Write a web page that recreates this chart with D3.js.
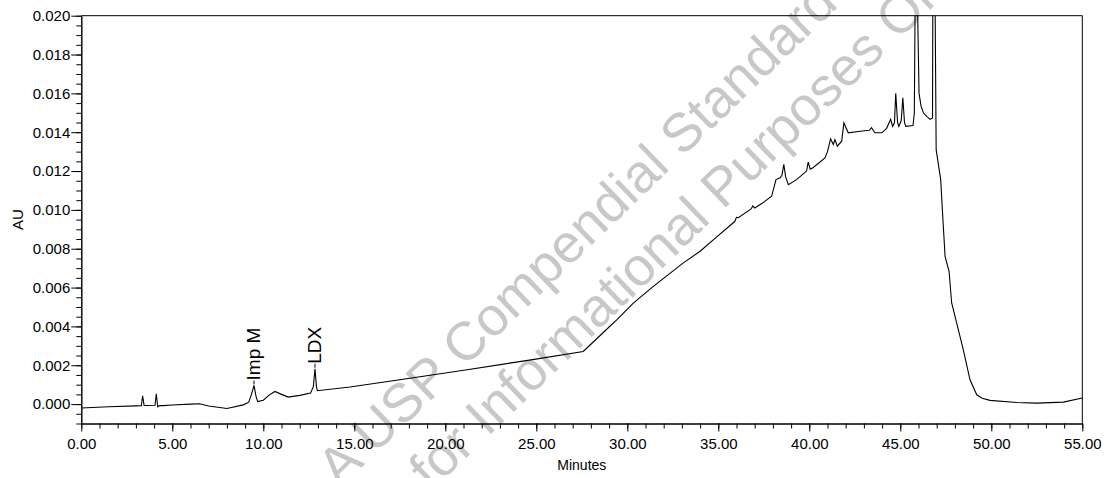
<!DOCTYPE html>
<html>
<head>
<meta charset="utf-8">
<script src="https://cdn.jsdelivr.net/npm/d3@7"></script>
<style>
  html, body { margin: 0; padding: 0; background: #fff; }
  svg { display: block; }
  text { font-family: "Liberation Sans", Arial, sans-serif; }
</style>
</head>
<body>
<svg id="chart" width="1108" height="478"></svg>
<script>
// ---- data ----
const times = [0, 1.5, 3.0, 3.3, 3.37, 3.45, 3.6, 4.05, 4.12, 4.2, 4.3, 4.5, 5.0, 6.0, 6.5, 7.0, 8.0, 8.9, 9.2, 9.35, 9.49, 9.6, 9.69, 10.0, 10.3, 10.64, 11.0, 11.37, 12.0, 12.6, 12.75, 12.84, 12.92, 12.97, 14.76, 17.5, 21.2, 24.8, 27.58, 28.0, 29.0, 29.42, 30.33, 31.43, 33.08, 34.0, 34.9, 35.9, 36.0, 36.1, 36.8, 36.9, 37.0, 37.5, 37.93, 38.17, 38.4, 38.5, 38.6, 38.7, 38.85, 39.3, 39.85, 39.94, 40.05, 40.2, 40.86, 41.0, 41.17, 41.32, 41.41, 41.54, 41.78, 41.9, 42.14, 42.79, 43.3, 43.42, 43.6, 43.98, 44.25, 44.34, 44.47, 44.58, 44.68, 44.75, 44.85, 44.92, 45.05, 45.14, 45.23, 45.3, 45.7, 45.77, 45.85, 45.96, 46.03, 46.14, 46.27, 46.45, 46.64, 46.77, 46.8, 46.88, 46.97, 47.22, 47.33, 47.46, 47.68, 47.82, 48.46, 48.83, 49.2, 49.5, 49.93, 51.4, 52.5, 53.96, 55.0];
const absorb = [-0.0002, -0.00014, -0.00009, -0.00008, 0.00043, -0.00007, -0.00007, -0.00006, 0.00053, -0.00014, -0.00007, -0.00008, -0.00005, 0.0, 0.00002, -0.0001, -0.00023, -0.00004, 0.0001, 0.0005, 0.00096, 0.0004, 0.00013, 0.0002, 0.00045, 0.00065, 0.0005, 0.00036, 0.00045, 0.00057, 0.0009, 0.00182, 0.0009, 0.00069, 0.00088, 0.00125, 0.00177, 0.00229, 0.00271, 0.00308, 0.00397, 0.00434, 0.0052, 0.00606, 0.00727, 0.00787, 0.0086, 0.0094, 0.00962, 0.0096, 0.01005, 0.0102, 0.0101, 0.0104, 0.0107, 0.01156, 0.01165, 0.0118, 0.01234, 0.0117, 0.0113, 0.01156, 0.012, 0.01246, 0.0121, 0.01217, 0.01268, 0.013, 0.01366, 0.01337, 0.01362, 0.01328, 0.01354, 0.01448, 0.01397, 0.01405, 0.0141, 0.01423, 0.01397, 0.01397, 0.0142, 0.0144, 0.01466, 0.0143, 0.0145, 0.016, 0.0145, 0.0143, 0.0146, 0.01577, 0.0145, 0.0143, 0.01434, 0.0150, 0.025, 0.0198, 0.016, 0.01534, 0.015, 0.01482, 0.01466, 0.01474, 0.025, 0.025, 0.0131, 0.01156, 0.0097, 0.00761, 0.00684, 0.00522, 0.0028, 0.00125, 0.00048, 0.0003, 0.00019, 0.00008, 0.00005, 0.0001, 0.00031];
const peakNames = ["Imp M", "LDX"];
const peakTimes = [9.49, 12.84];
const peakValues = [0.00096, 0.00182];
const xMajorTicks = [0, 5, 10, 15, 20, 25, 30, 35, 40, 45, 50, 55];
const yMajorTicks = [0, 0.002, 0.004, 0.006, 0.008, 0.010, 0.012, 0.014, 0.016, 0.018, 0.020];
const watermarkLines = ["A USP Compendial Standard", "for Informational Purposes Only"];

// ---- layout ----
const svg = d3.select("#chart");
const mLeft = 81.3, mRight = 1082.3, mTop = 15.7, mBottom = 423.5;
const x = d3.scaleLinear().domain([0, 55]).range([mLeft, mRight]);
const y = d3.scaleLinear().domain([-0.001, 0.020]).range([mBottom, mTop]);

// watermark
const wm = svg.append("g")
  .attr("transform", "translate(339.4,488.7) rotate(-44)")
  .attr("fill", "#c8c8c8")
  .style("font-size", "54px");
wm.append("text").attr("x", 0).attr("y", 0).text(watermarkLines[0]);
wm.append("text").attr("x", 64).attr("y", 66).text(watermarkLines[1]);

// clip
svg.append("defs").append("clipPath").attr("id", "plotclip")
  .append("rect").attr("x", mLeft).attr("y", mTop).attr("width", mRight - mLeft).attr("height", mBottom - mTop);

// axes
const xMinor = d3.range(0, 56, 1);
const yMinor = d3.range(-0.001, 0.02001, 0.0005);

const gx = svg.append("g").attr("transform", `translate(0,${mBottom})`);
gx.call(d3.axisBottom(x).tickValues(xMinor).tickSize(5).tickSizeOuter(0).tickFormat(""));
gx.append("g").call(d3.axisBottom(x).tickValues(xMajorTicks).tickSize(8).tickSizeOuter(0).tickPadding(7).tickFormat(d3.format(".2f")));
gx.selectAll("text").style("font-size", "15px").attr("fill", "#000");

const gy = svg.append("g").attr("transform", `translate(${mLeft},0)`);
gy.call(d3.axisLeft(y).tickValues(yMinor).tickSize(5).tickSizeOuter(0).tickFormat(""));
gy.append("g").call(d3.axisLeft(y).tickValues(yMajorTicks).tickSize(10).tickSizeOuter(0).tickPadding(1).tickFormat(d3.format(".3f")));
gy.selectAll("text").style("font-size", "15px").attr("fill", "#000");

svg.selectAll(".domain, .tick line").attr("stroke", "#000");

// frame top & right
svg.append("line").attr("x1", mLeft).attr("x2", mRight).attr("y1", mTop).attr("y2", mTop).attr("stroke", "#000");
svg.append("line").attr("x1", mRight).attr("x2", mRight).attr("y1", mTop).attr("y2", mBottom).attr("stroke", "#000");

// axis titles
svg.append("text").attr("x", x(27.5)).attr("y", 470).attr("text-anchor", "middle")
  .style("font-size", "14px").attr("fill", "#000").text("Minutes");
svg.append("text").attr("transform", `translate(23,${y(0.0095)}) rotate(-90)`).attr("text-anchor", "middle")
  .style("font-size", "15px").attr("fill", "#000").text("AU");

// trace
const pts = times.map((t, i) => [t, absorb[i]]);
svg.append("path").datum(pts)
  .attr("clip-path", "url(#plotclip)")
  .attr("fill", "none").attr("stroke", "#000").attr("stroke-width", 1.1)
  .attr("d", d3.line().x(d => x(d[0])).y(d => y(d[1])));

// peak labels
peakNames.forEach((name, i) => {
  const px = x(peakTimes[i]), py = y(peakValues[i]);
  svg.append("line").attr("x1", px).attr("x2", px).attr("y1", py - 1).attr("y2", py - 5).attr("stroke", "#000");
  svg.append("text").attr("transform", `translate(${px + 6},${py - 5}) rotate(-90)`)
    .style("font-size", "19px").attr("fill", "#000").text(name);
});
</script>
</body>
</html>
